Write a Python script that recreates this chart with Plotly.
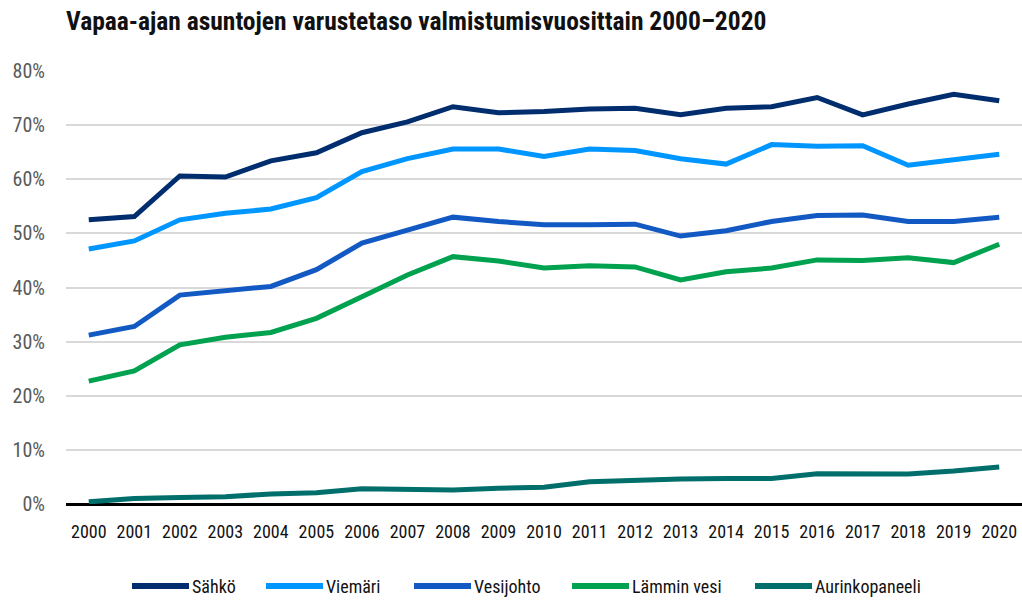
import plotly.graph_objects as go

years = [str(y) for y in range(2000, 2021)]
sahko = [52.5, 53.1, 60.6, 60.4, 63.4, 64.9, 68.6, 70.6, 73.4, 72.3, 72.5, 73.0, 73.1, 71.9, 73.1, 73.4, 75.1, 71.9, 73.9, 75.7, 74.5]
viemari = [47.1, 48.6, 52.5, 53.7, 54.5, 56.6, 61.4, 63.8, 65.6, 65.6, 64.2, 65.6, 65.3, 63.8, 62.8, 66.4, 66.1, 66.2, 62.6, 63.6, 64.6]
vesijohto = [31.2, 32.8, 38.6, 39.4, 40.2, 43.3, 48.2, 50.6, 53.0, 52.2, 51.6, 51.6, 51.7, 49.5, 50.5, 52.2, 53.3, 53.4, 52.2, 52.2, 53.0]
lammin_vesi = [22.7, 24.6, 29.4, 30.8, 31.7, 34.3, 38.3, 42.3, 45.7, 44.9, 43.6, 44.0, 43.8, 41.4, 42.9, 43.6, 45.1, 45.0, 45.5, 44.6, 48.0]
aurinko = [0.4, 1.0, 1.2, 1.35, 1.85, 2.1, 2.8, 2.8, 2.6, 2.9, 3.1, 4.1, 4.4, 4.6, 4.7, 4.7, 5.6, 5.5, 5.55, 6.1, 6.85]
y_ticks = [0, 10, 20, 30, 40, 50, 60, 70, 80]

series = [
    ("Sähkö", sahko, "#002D6E"),
    ("Viemäri", viemari, "#0096FF"),
    ("Vesijohto", vesijohto, "#1259C3"),
    ("Lämmin vesi", lammin_vesi, "#00A24F"),
    ("Aurinkopaneeli", aurinko, "#006F6C"),
]

FONT = "Roboto Condensed, Open Sans Condensed, Noto Sans Condensed, Roboto, sans-serif"

# layout geometry (pixels in the page; body margin removed below)
W, H = 1022, 600
ML, MR, MT, MB = 66, 0, 71, 96
PW, PH = W - ML - MR, H - MT - MB

def px_x(px):  # page pixel -> paper x
    return (px - ML) / PW

def px_y(py):  # page pixel -> paper y
    return (H - MB - py) / PH

fig = go.Figure()
for name, vals, col in series:
    fig.add_trace(go.Scatter(x=years, y=vals, name=name, mode="lines",
                             line=dict(color=col, width=5), showlegend=False))

# custom legend (long swatches like the reference)
legend_starts = [132, 266, 414, 572, 755]
swatch_len = 57
leg_y = px_y(586)
shapes, annotations = [], []
for (name, _, col), x0 in zip(series, legend_starts):
    shapes.append(dict(type="line", xref="paper", yref="paper",
                       x0=px_x(x0), x1=px_x(x0 + swatch_len), y0=leg_y, y1=leg_y,
                       line=dict(color=col, width=6)))
    annotations.append(dict(xref="paper", yref="paper", x=px_x(x0 + swatch_len + 1), y=leg_y,
                            xanchor="left", yanchor="middle", showarrow=False, text=name,
                            font=dict(family=FONT, size=18, color="#111111")))

fig.update_layout(
    width=W, height=H,
    paper_bgcolor="white", plot_bgcolor="white",
    margin=dict(l=ML, r=MR, t=MT, b=MB, autoexpand=False),
    title=dict(text="<b>Vapaa-ajan asuntojen varustetaso valmistumisvuosittain 2000–2020</b>",
               x=ML / W, xanchor="left", y=1 - 21 / H, yanchor="middle",
               font=dict(family=FONT, size=25.5, color="#111111")),
    font=dict(family=FONT, size=17, color="#111111"),
    xaxis=dict(type="category", range=[-0.5, 20.5], showgrid=False,
               showline=False, ticks="", ticklabelstandoff=15,
               tickfont=dict(size=18, color="#111111")),
    yaxis=dict(range=[0, 80], tickvals=y_ticks, ticktext=[f"{v}%" for v in y_ticks],
               showgrid=True, gridcolor="#d9d9d9", gridwidth=1.5,
               zeroline=True, zerolinecolor="#000000", zerolinewidth=3,
               ticks="", ticklabelstandoff=20,
               tickfont=dict(size=20, color="#595959")),
    shapes=shapes,
    annotations=annotations,
    showlegend=False,
)

fig.write_html("out.html", config={"displayModeBar": False},
               post_script="document.body.style.margin='0';document.body.style.overflow='hidden';")
